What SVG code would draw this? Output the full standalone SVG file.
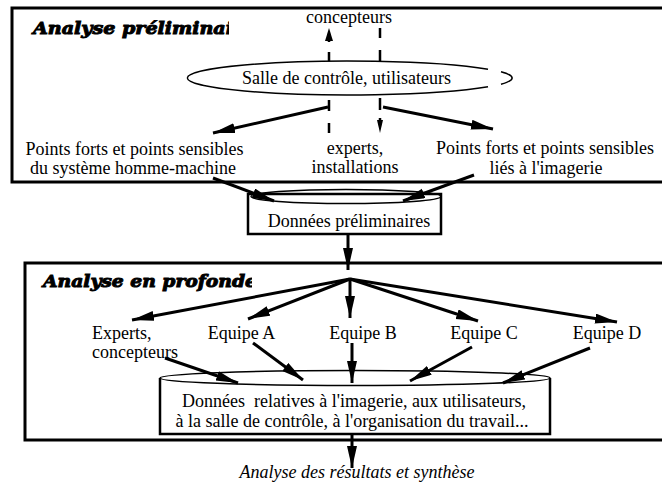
<svg xmlns="http://www.w3.org/2000/svg" width="662" height="485" viewBox="0 0 662 485">
  <style>
    .lbl { font-family: "Liberation Serif", "Times New Roman", serif; font-size: 18px; fill: #000; }
    .mid { text-anchor: middle; }
    .title { font-family: "DejaVu Serif", "Liberation Serif", serif; font-size: 17px; font-weight: bold; font-style: italic; fill: #000; stroke: #000; stroke-width: 1; }
    .frame { fill: none; stroke: #000; stroke-width: 3; }
    .box { fill: #fff; stroke: #000; stroke-width: 2.5; }
    .lens { fill: #fff; stroke: #000; stroke-width: 1.5; }
    .arrow { fill: none; stroke: #000; stroke-width: 3; marker-end: url(#head); }
    .dash { fill: none; stroke: #000; stroke-width: 2.5; }
  </style>
  <defs>
    <marker id="head" markerUnits="userSpaceOnUse" markerWidth="24" markerHeight="12" refX="22" refY="5" orient="auto">
      <path d="M0,0 L22,5 L0,10 z" fill="#000"/>
    </marker>
    <clipPath id="clip-top"><rect x="0" y="10" width="229" height="40"/></clipPath>
    <clipPath id="clip-bottom"><rect x="0" y="265" width="252" height="40"/></clipPath>
  </defs>
  <rect width="662" height="485" fill="#fff"/>

  <!-- preliminary analysis frame (open to the right) -->
  <g id="frame-preliminary">
    <rect class="frame" x="12" y="8" width="700" height="174"/>
    <text class="title" x="33" y="34" textLength="200" lengthAdjust="spacingAndGlyphs" clip-path="url(#clip-top)">Analyse préliminai</text>
  </g>

  <!-- in-depth analysis frame (open to the right) -->
  <g id="frame-indepth">
    <rect class="frame" x="25" y="263" width="700" height="177"/>
    <text class="title" x="43" y="287" textLength="214" lengthAdjust="spacingAndGlyphs" clip-path="url(#clip-bottom)">Analyse en profonde</text>
  </g>

  <!-- dashed links between designers and experts -->
  <g id="connectors-dashed">
    <path class="dash" d="M329,133 V123 M329,111 V100 M329,62 V52 M329,42 V38"/>
    <polygon points="329,28 325,41 333,41" fill="#000"/>
    <path class="dash" d="M380,28 V38 M380,50 V62 M380,98 V110 M380,118 V122"/>
    <polygon points="380,133 377,120 383,120" fill="#000"/>
  </g>

  <g id="node-concepteurs">
    <text class="lbl mid" x="349" y="23">concepteurs</text>
  </g>

  <g id="node-salle">
    <path class="lens" d="M488,69.2 A162 17 0 1 0 488,86.8"/>
    <path fill="none" stroke="#000" stroke-width="1.5" d="M501,71.8 A162 17 0 0 1 501,84.2"/>
    <text class="lbl mid" x="346.5" y="84">Salle de contrôle, utilisateurs</text>
  </g>

  <g id="node-hm">
    <text class="lbl mid" x="134.5" y="155">Points forts et points sensibles</text>
    <text class="lbl mid" x="133" y="174">du système homme-machine</text>
  </g>

  <g id="node-experts-installations">
    <text class="lbl mid" x="355" y="154">experts,</text>
    <text class="lbl mid" x="355" y="173">installations</text>
  </g>

  <g id="node-imagerie">
    <text class="lbl mid" x="545" y="154">Points forts et points sensibles</text>
    <text class="lbl mid" x="546" y="174">liés à l'imagerie</text>
  </g>

  <g id="node-donnees-prelim">
    <rect class="box" x="248" y="194" width="193" height="40"/>
    <ellipse class="lens" cx="346" cy="196.5" rx="95" ry="7" style="fill:none"/>
    <text class="lbl mid" x="349" y="227">Données préliminaires</text>
  </g>

  <g id="node-experts">
    <text class="lbl" x="92" y="339">Experts,</text>
    <text class="lbl" x="92" y="358">concepteurs</text>
  </g>
  <g id="node-equipe-a"><text class="lbl mid" x="241.5" y="339">Equipe A</text></g>
  <g id="node-equipe-b"><text class="lbl mid" x="363" y="339">Equipe B</text></g>
  <g id="node-equipe-c"><text class="lbl mid" x="484" y="339">Equipe C</text></g>
  <g id="node-equipe-d"><text class="lbl mid" x="607" y="339">Equipe D</text></g>

  <g id="node-donnees-relatives">
    <path class="box" d="M160,378 V434 H550 V378"/>
    <ellipse class="lens" cx="355" cy="378" rx="195" ry="7.5" style="fill:none"/>
    <text class="lbl mid" x="354" y="407" xml:space="preserve">Données  relatives à l'imagerie, aux utilisateurs,</text>
    <text class="lbl mid" x="352" y="427">à la salle de contrôle, à l'organisation du travail...</text>
  </g>

  <g id="node-synthese">
    <text class="lbl mid" x="357" y="478" font-style="italic">Analyse des résultats et synthèse</text>
  </g>

  <!-- solid arrows -->
  <g id="connectors">
    <line class="arrow" x1="328" y1="107" x2="213" y2="133"/>
    <line class="arrow" x1="383" y1="107" x2="493" y2="129"/>
    <line class="arrow" x1="213" y1="178" x2="274" y2="201"/>
    <line class="arrow" x1="474" y1="175" x2="403" y2="201"/>
    <line class="arrow" x1="348" y1="234" x2="348" y2="270"/>
    <line class="arrow" x1="350" y1="279" x2="132" y2="320"/>
    <line class="arrow" x1="350" y1="279" x2="248" y2="319"/>
    <line class="arrow" x1="350" y1="279" x2="350" y2="318"/>
    <line class="arrow" x1="350" y1="279" x2="478" y2="321"/>
    <line class="arrow" x1="350" y1="279" x2="617" y2="322"/>
    <line class="arrow" x1="165" y1="358" x2="238" y2="383"/>
    <line class="arrow" x1="253" y1="343" x2="303" y2="380"/>
    <line class="arrow" x1="352" y1="343" x2="352" y2="383"/>
    <line class="arrow" x1="472" y1="347" x2="410" y2="381"/>
    <line class="arrow" x1="590" y1="348" x2="503" y2="383"/>
    <line class="arrow" x1="352" y1="434" x2="352" y2="468"/>
  </g>
</svg>
